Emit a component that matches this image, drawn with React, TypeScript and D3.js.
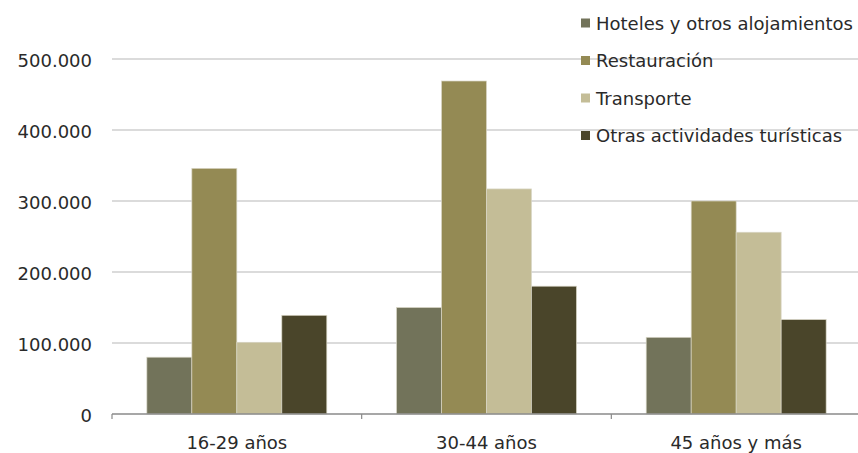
import React from "react";
import * as d3 from "d3";

const categories = ["16-29 años", "30-44 años", "45 años y más"];
const seriesNames = ["Hoteles y otros alojamientos", "Restauración", "Transporte", "Otras actividades turísticas"];
const hoteles = [80000, 150000, 108000];
const restauracion = [346000, 469000, 300000];
const transporte = [101000, 317000, 256000];
const otras = [139000, 180000, 133000];
const seriesValues = [hoteles, restauracion, transporte, otras];
const colors = ["#72735A", "#948A54", "#C4BD97", "#4A452A"];
const yTicks = [0, 100000, 200000, 300000, 400000, 500000];

const W = 858;
const H = 453;
const FONT = "'DejaVu Sans', Verdana, sans-serif";

const fmt = (v: number) => (v === 0 ? "0" : d3.format(",")(v).replace(/,/g, "."));

export default function App() {
  const x0 = d3.scaleBand<string>().domain(categories).range([112, 861]).paddingInner(0).paddingOuter(0);
  const x1 = d3
    .scaleBand<string>()
    .domain(seriesNames)
    .range([0, x0.bandwidth()])
    .paddingInner(0)
    .paddingOuter(0.775);
  const y = d3.scaleLinear().domain([0, 500000]).range([414, 59]);

  const legendY = d3.scaleLinear().domain([0, 3]).range([23, 135.5]);

  return (
    <svg width={W} height={H} style={{ position: "absolute", left: 0, top: 0, background: "#fff" }}>
      {/* gridlines */}
      {yTicks.filter((t) => t > 0).map((t) => (
        <line key={t} x1={112} x2={W} y1={y(t)} y2={y(t)} stroke="#cfcfcf" strokeWidth={1.3} />
      ))}
      {/* y tick labels */}
      {yTicks.map((t) => (
        <text
          key={"l" + t}
          x={92}
          y={y(t) + 7.5}
          textAnchor="end"
          fontFamily={FONT}
          fontSize={18}
          fill="#2a2a2a"
        >
          {fmt(t)}
        </text>
      ))}
      {/* bars */}
      {categories.map((c, ci) => (
        <g key={c} transform={`translate(${x0(c)},0)`}>
          {seriesNames.map((s, si) => {
            const v = seriesValues[si][ci];
            return (
              <rect
                key={s}
                x={x1(s)}
                y={y(v)}
                width={x1.bandwidth()}
                height={y(0) - y(v)}
                fill={colors[si]}
                stroke="#d9d6c6"
                strokeWidth={0.7}
              />
            );
          })}
        </g>
      ))}
      {/* x axis */}
      <line x1={112} x2={W} y1={414} y2={414} stroke="#8a8a8a" strokeWidth={1.6} />
      {categories.map((c) => (
        <line key={"t" + c} x1={x0(c)!} x2={x0(c)!} y1={414} y2={419} stroke="#8a8a8a" strokeWidth={1.2} />
      ))}
      {categories.map((c) => (
        <text
          key={"c" + c}
          x={x0(c)! + x0.bandwidth() / 2}
          y={449}
          textAnchor="middle"
          fontFamily={FONT}
          fontSize={18}
          fill="#2a2a2a"
        >
          {c}
        </text>
      ))}
      {/* legend */}
      {seriesNames.map((s, i) => (
        <g key={"lg" + s}>
          <rect x={581} y={legendY(i) - 4.5} width={9} height={9} fill={colors[i]} />
          <text x={596} y={legendY(i) + 6.5} fontFamily={FONT} fontSize={18} fill="#2a2a2a">
            {s}
          </text>
        </g>
      ))}
    </svg>
  );
}
